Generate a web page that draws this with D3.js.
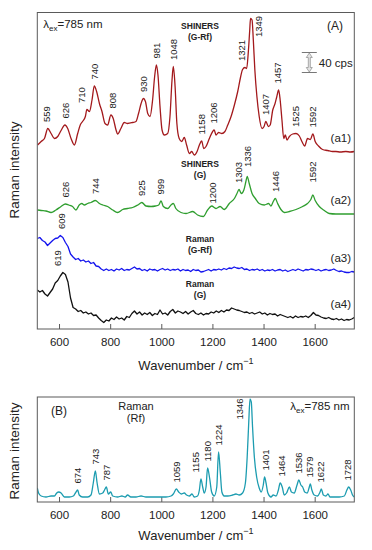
<!DOCTYPE html>
<html>
<head>
<meta charset="utf-8">
<script src="https://cdn.jsdelivr.net/npm/d3@7"></script>
<style>
  body { margin: 0; background: #fff; }
  svg { display: block; font-family: "Liberation Sans", Arial, sans-serif; }
</style>
</head>
<body>
<div id="vis"></div>
<script>
// ---- data ----
// panel A, trace a1 : SHINERS (G-Rf)
var a1Wn = [516,530,543,556,569,582,595,608,623,634,647,660,673,683,692,703,709,719,729,738,
  747,758,768,780,790,803,812,823,829,842,855,868,888,901,911,921,930,938,947,956,
  966,974,981,987,995,1003,1012,1025,1034,1042,1047,1054,1061,1070,1080,1090,1099,1110,1119,1129,
  1140,1149,1158,1166,1175,1188,1201,1207,1214,1224,1237,1249,1260,1273,1286,1299,1309,1318,1327,1334,
  1340,1346,1349,1355,1360,1366,1374,1383,1394,1402,1409,1419,1426,1436,1445,1452,1459,1465,1472,1479,
  1485,1492,1501,1514,1527,1540,1550,1561,1572,1583,1593,1602,1615,1631,1651,1670,1683,1700,1722,1740,1755];
var a1Int = [18,25,31,51,41,31,35,47,58,51,31,18,41,58,65,75,89,85,108,136,
  125,101,85,61,58,78,71,48,40,51,63,61,63,65,81,101,111,105,81,75,
  108,155,178,158,95,48,38,41,75,148,175,135,61,31,25,33,18,1,5,-2,
  5,18,26,11,15,31,45,48,38,43,41,45,58,75,98,125,151,169,173,171,
  201,248,271,268,228,168,115,75,51,55,65,55,58,88,101,115,128,108,68,31,
  38,28,35,40,41,36,25,16,31,29,40,25,16,9,7,5,5,4,5,4,5];

// trace a2 : SHINERS (G)
var a2Wn = [516,530,549,569,588,608,625,638,653,666,679,689,699,712,725,742,758,771,790,810,
  829,849,868,888,908,924,940,960,977,990,999,1008,1025,1038,1047,1057,1077,1097,1123,1142,
  1164,1181,1197,1214,1230,1246,1266,1286,1296,1304,1313,1323,1331,1336,1344,1355,1368,1383,1403,1420,
  1429,1438,1446,1455,1468,1481,1501,1527,1553,1572,1585,1593,1602,1618,1638,1657,1683,1722,1755];
var a2Int = [13,12,11,8,13,20,25,23,20,13,23,26,23,26,28,32,26,23,20,13,
  8,14,16,18,23,28,21,20,21,23,31,20,16,23,26,16,8,6,10,3,
  0,13,21,16,20,14,26,36,46,54,46,53,70,80,66,46,36,26,23,26,
  21,30,36,26,14,8,10,14,20,26,34,43,32,20,12,6,5,5,5];

// traces a3 / a4 : plain Raman, sampled every 10 cm-1 from 515
var gridStart = 515, gridStep = 10;
var a3Int = [71,73,67,64,57,62,67,71,72,77, 73,63,55,40,34,29,31,26,28,24,
  26,21,23,16,15,10,7,10,7,9, 6,10,8,11,7,9,8,11,14,10,
  11,7,9,6,10,8,9,6,9,11, 8,10,7,9,8,10,6,9,7,8,
  5,9,7,8,4,5,7,9,6,9, 8,10,8,11,9,12,11,14,12,11,
  13,9,10,7,9,8,10,7,9,6, 8,7,9,6,8,9,6,8,5,7,
  9,7,10,8,6,9,8,10,9,7, 9,6,8,9,7,8,10,7,5,6, 4,3,3,5,4];
var a4Int = [68,64,67,60,56,63,70,82,87,96, 103,99,84,52,33,30,25,27,22,24,
  20,22,17,18,12,7,3,8,6,12, 9,14,10,12,8,15,13,21,26,20,
  24,18,22,19,23,17,21,19,28,20, 22,18,25,29,22,26,24,21,25,20,
  24,27,21,19,22,18,21,20,24,22, 26,23,27,24,28,27,32,30,28,27,
  25,23,24,21,23,20,22,24,20,22, 18,21,19,20,16,19,17,15,13,15,
  12,16,13,15,14,16,13,17,23,18, 17,14,12,11,13,10,9,11,8,10, 7,9,8,10,13];

// vertical offsets of the stacked traces (cps)
var offsets = {a1: 350, a2: 225, a3: 110, a4: 10};

// panel B : Raman (Rf)
var bWn = [515,520,530,549,569,582,591,599,608,621,640,656,664,673,679,692,712,725,734,742,
  749,758,771,778,785,793,802,810,829,846,859,868,881,901,921,940,979,1018,1038,1047,
  1059,1068,1078,1090,1099,1110,1120,1129,1142,1149,1155,1162,1168,1175,1181,1189,1197,1207,1217,1224,
  1231,1237,1246,1260,1279,1292,1305,1318,1329,1336,1342,1347,1352,1357,1364,1373,1383,1391,1399,1404,
  1409,1417,1429,1438,1449,1458,1465,1473,1481,1490,1501,1509,1520,1531,1538,1546,1553,1561,1571,1579,
  1583,1589,1598,1611,1621,1626,1634,1644,1652,1660,1677,1696,1716,1726,1733,1741,1748,1755];
var bInt = [14,9,6,5,6,6,9,10,9,5,5,6,9,12,7,5,5,7,19,31,
  19,8,9,12,15,8,10,6,5,6,5,7,5,5,6,5,5,5,6,8,
  13,10,8,9,7,6,8,5,6,12,23,15,9,15,34,24,10,6,15,50,
  29,10,6,6,7,8,7,9,19,45,79,103,100,75,45,25,14,10,17,25,
  20,9,5,7,6,12,19,15,7,9,15,10,9,17,22,17,15,10,9,15,
  18,12,7,6,10,13,7,6,8,5,5,5,6,12,15,12,7,5];

// peak labels
var a1Labels = [559,626,710,740,808,930,981,1048,1158,1206,1321,1349,1407,1457,1525,1592];
var a2Labels = [626,744,925,999,1200,1303,1336,1446,1592];
var a3Labels = [609];
var a4Labels = [619];
var bLabels = [674,743,787,1059,1155,1180,1224,1346,1401,1464,1536,1579,1622,1728];

var xTicks = [600,800,1000,1200,1400,1600];
var scaleBarCps = 40;

// ---- layout ----
var W = 372, H = 550;
var frameCol = "#5a5a5a";
var svg = d3.select("#vis").append("svg").attr("width", W).attr("height", H);
svg.append("rect").attr("width", W).attr("height", H).attr("fill", "#fff");

var x = d3.scaleLinear().domain([515, 1755]).range([37.3, 354.3]);
var yA = d3.scaleLinear().domain([0, 633]).range([329, 12.5]);
var yB = d3.scaleLinear().domain([0, 105]).range([502, 397]);

function toPts(wn, vals, off) {
  return wn.map(function(w, i) { return [w, vals[i] + off]; });
}
function gridPts(vals, off) {
  return vals.map(function(v, i) { return [gridStart + i * gridStep, v + off]; });
}

var series = [
  {key: "a1", pts: toPts(a1Wn, a1Int, offsets.a1), color: "#a3191c", curve: d3.curveMonotoneX, labels: a1Labels, win: 8},
  {key: "a2", pts: toPts(a2Wn, a2Int, offsets.a2), color: "#2f9e2f", curve: d3.curveMonotoneX, labels: a2Labels, win: 8},
  {key: "a3", pts: gridPts(a3Int, offsets.a3), color: "#1414ee", curve: d3.curveLinear, labels: a3Labels, win: 10},
  {key: "a4", pts: gridPts(a4Int, offsets.a4), color: "#111111", curve: d3.curveLinear, labels: a4Labels, win: 10}
];
var seriesB = {key: "b", pts: toPts(bWn, bInt, 0), color: "#1c9cb0", curve: d3.curveMonotoneX, labels: bLabels, win: 6};

// small hand nudges for labels that sit off their peak (px)
var nudge = {
  "a1-559": [-2, 0], "a1-710": [-5, 0], "a1-1321": [-2, 0], "a1-1349": [8, 25],
  "a2-1200": [0, 4], "a2-1336": [0, -3], "a2-1592": [0, -6],
  "a4-619": [-6, 0], "b-1346": [-10, 27], "b-1155": [-5, 0],
  "b-1401": [2, 0], "b-1464": [2, 0]
};

function panel(y, top, bottom, list, id) {
  var g = svg.append("g");
  svg.append("clipPath").attr("id", id).append("rect")
    .attr("x", x.range()[0]).attr("y", top)
    .attr("width", x.range()[1] - x.range()[0]).attr("height", bottom - top);

  // axis with inward ticks
  var ax = g.append("g").attr("transform", "translate(0," + bottom + ")")
    .call(d3.axisBottom(x).tickValues(xTicks).tickFormat(d3.format("d"))
      .tickSizeInner(-5).tickSizeOuter(0).tickPadding(9));
  ax.select(".domain").remove();
  ax.selectAll(".tick line").attr("stroke", frameCol);
  ax.selectAll(".tick text").attr("font-size", 11.5).attr("fill", "#222")
    .attr("font-family", "'Liberation Sans', Arial, sans-serif");

  list.forEach(function(s) {
    var line = d3.line().curve(s.curve)
      .x(function(d) { return x(d[0]); }).y(function(d) { return y(d[1]); });
    g.append("path").datum(s.pts).attr("clip-path", "url(#" + id + ")")
      .attr("fill", "none").attr("stroke", s.color).attr("stroke-width", 1.3)
      .attr("stroke-linejoin", "round").attr("d", line);

    s.labels.forEach(function(wn) {
      var near = s.pts.filter(function(p) { return Math.abs(p[0] - wn) <= s.win; });
      var peak = d3.max(near, function(p) { return p[1]; });
      var n = nudge[s.key + "-" + wn] || [0, 0];
      var lx = x(wn) + n[0], ly = y(peak) - 6.5 + n[1];
      g.append("text").attr("transform", "translate(" + lx + "," + ly + ") rotate(-90)")
        .attr("dy", "0.35em").attr("font-size", 9.5).attr("fill", "#222").text(wn);
    });
  });

  g.append("rect").attr("x", x.range()[0]).attr("y", top)
    .attr("width", x.range()[1] - x.range()[0]).attr("height", bottom - top)
    .attr("fill", "none").attr("stroke", frameCol).attr("stroke-width", 1);
  return g;
}

var gA = panel(yA, 12.5, 329, series, "clipA");
var gB = panel(yB, 397, 502, [seriesB], "clipB");

// ---- text annotations ----
function lambda(g, tx, ty, anchor) {
  var t = g.append("text").attr("x", tx).attr("y", ty).attr("font-size", 11.5)
    .attr("fill", "#222").attr("text-anchor", anchor);
  t.append("tspan").text("λ");
  t.append("tspan").attr("font-size", 8).attr("dy", 3).text("ex");
  t.append("tspan").attr("dy", -3).text("=785 nm");
}
lambda(gA, 43.3, 27.5, "start");
lambda(gB, 349.5, 410, "end");

gA.append("text").attr("x", 343).attr("y", 29.5).attr("text-anchor", "end")
  .attr("font-size", 12).attr("fill", "#222").text("(A)");
gB.append("text").attr("x", 51).attr("y", 415).attr("font-size", 12)
  .attr("fill", "#222").text("(B)");

var sampleTitles = [
  ["SHINERS", "(G-Rf)", 28.5],
  ["SHINERS", "(G)", 166.7],
  ["Raman", "(G-Rf)", 241.7],
  ["Raman", "(G)", 286.7]
];
sampleTitles.forEach(function(t) {
  gA.append("text").attr("x", 200).attr("y", t[2]).attr("text-anchor", "middle")
    .attr("font-size", 8.5).attr("font-weight", "bold").attr("fill", "#222").text(t[0]);
  gA.append("text").attr("x", 200).attr("y", t[2] + 11).attr("text-anchor", "middle")
    .attr("font-size", 8.5).attr("font-weight", "bold").attr("fill", "#222").text(t[1]);
});
gB.append("text").attr("x", 136).attr("y", 410).attr("text-anchor", "middle")
  .attr("font-size", 11).attr("fill", "#222").text("Raman");
gB.append("text").attr("x", 136).attr("y", 422).attr("text-anchor", "middle")
  .attr("font-size", 11).attr("fill", "#222").text("(Rf)");

// (a1)..(a4) tags, sitting just above each trace's right end
series.forEach(function(s, i) {
  var last = s.pts[s.pts.length - 1][1];
  gA.append("text").attr("x", 351).attr("y", yA(last) - 10).attr("text-anchor", "end")
    .attr("font-size", 11.5).attr("fill", "#222").text("(a" + (i + 1) + ")");
});

// 40 cps scale bar
var sbX = x(1579), sbTop = yA(553), sbBot = yA(553 - scaleBarCps);
var sb = gA.append("g");
sb.append("line").attr("x1", sbX - 7.5).attr("x2", sbX + 7.5).attr("y1", sbTop).attr("y2", sbTop)
  .attr("stroke", "#777").attr("stroke-width", 1);
sb.append("line").attr("x1", sbX - 7.5).attr("x2", sbX + 7.5).attr("y1", sbBot).attr("y2", sbBot)
  .attr("stroke", "#777").attr("stroke-width", 1);
var hl = 5, hw = 3, sw = 1;
sb.append("path")
  .attr("d", "M" + sbX + "," + (sbTop + 0.5) +
    " L" + (sbX + hw) + "," + (sbTop + hl) + " L" + (sbX + sw) + "," + (sbTop + hl) +
    " L" + (sbX + sw) + "," + (sbBot - hl) + " L" + (sbX + hw) + "," + (sbBot - hl) +
    " L" + sbX + "," + (sbBot - 0.5) +
    " L" + (sbX - hw) + "," + (sbBot - hl) + " L" + (sbX - sw) + "," + (sbBot - hl) +
    " L" + (sbX - sw) + "," + (sbTop + hl) + " L" + (sbX - hw) + "," + (sbTop + hl) + " Z")
  .attr("fill", "#e4e4e4").attr("stroke", "#8a8a8a").attr("stroke-width", 0.7);
sb.append("text").attr("x", sbX + 9.5).attr("y", (sbTop + sbBot) / 2 + 4)
  .attr("font-size", 11.5).attr("fill", "#222").text("40 cps");

// axis titles
function yTitle(cy) {
  svg.append("text").attr("transform", "translate(18.5," + cy + ") rotate(-90)")
    .attr("text-anchor", "middle").attr("font-size", 13.5).attr("fill", "#222")
    .text("Raman intensity");
}
yTitle(170);
yTitle(451);

function xTitle(cy) {
  var t = svg.append("text").attr("x", 196).attr("y", cy).attr("text-anchor", "middle")
    .attr("font-size", 13).attr("fill", "#222");
  t.append("tspan").text("Wavenumber / cm");
  t.append("tspan").attr("font-size", 9).attr("dy", -6).text("\u22121");
}
xTitle(370);
xTitle(540);
</script>
</body>
</html>
